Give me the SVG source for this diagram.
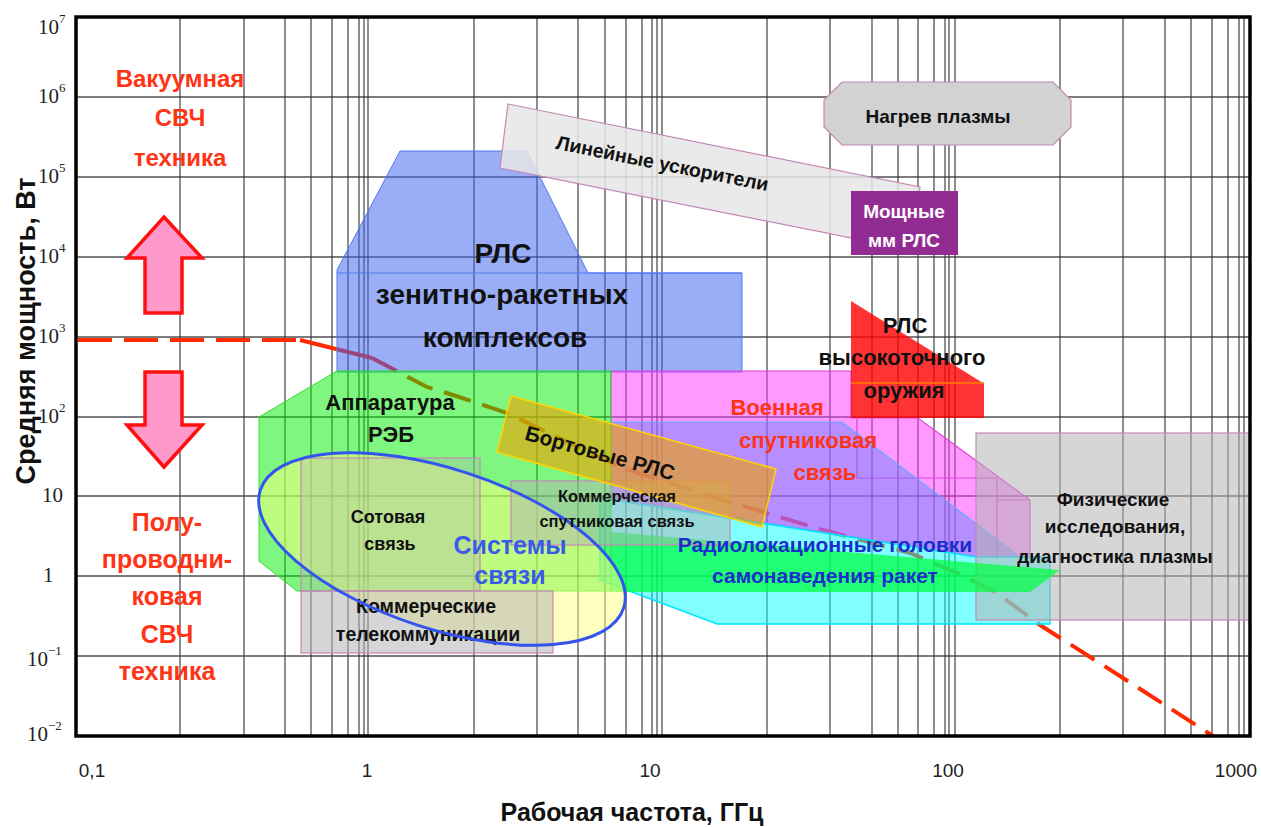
<svg xmlns="http://www.w3.org/2000/svg" width="1261" height="827" viewBox="0 0 1261 827">
<style>
.grid{stroke:#333;stroke-width:1.3;fill:none;opacity:.85}
.tick{font-family:"Liberation Serif",serif;font-size:21px;fill:#222}
.sup{font-size:13px}
.xt{font-family:"Liberation Sans",Arial,sans-serif;font-size:19px;fill:#222;text-anchor:middle}
.lbl{font-family:"Liberation Sans",Arial,sans-serif;font-weight:bold;text-anchor:middle;fill:#111}
.red{fill:#ff3315}
.arrow{fill:#ff99cc;stroke:#ff1010;stroke-width:3.5;stroke-linejoin:miter}
.box{stroke:#c488b4;stroke-width:1.2}
.rl{fill:none;stroke:#ff2a00;stroke-width:4}
.ell{fill:none;stroke:#3355ee;stroke-width:3}
</style>
<rect width="1261" height="827" fill="#fff"/>
<g id="grid">
<path class="grid" d="M76,97H1250M76,177H1250M76,257H1250M76,337H1250M76,417H1250M76,496H1250M76,576H1250M76,656H1250"/>
<path class="grid" d="M180,17V736M244,17V736M285,17V736M311,17V736M332,17V736M348,17V736M359,17V736M364,17V736M368,17V736M474,17V736M537,17V736M578,17V736M605,17V736M626,17V736M642,17V736M652,17V736M657,17V736M662,17V736M767,17V736M830,17V736M872,17V736M898,17V736M918,17V736M934,17V736M945,17V736M949,17V736M955,17V736M1060,17V736M1123,17V736M1165,17V736M1191,17V736M1212,17V736M1228,17V736M1239,17V736M1244,17V736"/>
</g>
<g id="connectors">
<path class="rl" stroke-dasharray="34 12" d="M78,340H300"/>
<path class="rl" d="M300,340L372,358"/>
<path class="rl" stroke-dasharray="28 12" d="M372,358L427,387L453,395L507,413L620,467L723,500L823,530L910,553L957,573L997,593L1040,625L1123,678L1213,736"/>
</g>
<g id="node-rls-zrk">
<polygon points="400,151 527,151 588,273 742,273 742,372 337,372 337,270" fill="#3b63f0" fill-opacity=".52" stroke="#5577ee" stroke-width="1"/>
<line x1="337" y1="273" x2="742" y2="273" stroke="#5577ee" stroke-width="1"/>
<text class="lbl" font-size="28" x="503" y="263">РЛС</text>
<text class="lbl" font-size="28" x="502" y="304">зенитно-ракетных</text>
<text class="lbl" font-size="28" x="505" y="347">комплексов</text>
</g>
<g id="node-linear">
<polygon class="box" points="508,104 920,187 912,250 500,168" fill="#e6e6e6" fill-opacity=".85"/>
<text class="lbl" font-size="19.5" transform="translate(661,170) rotate(11.3)">Линейные ускорители</text>
</g>
<g id="node-plasma-heat">
<polygon class="box" points="842,82 1053,82 1071,100 1071,127 1053,145 842,145 824,127 824,100" fill="#d2d2d2"/>
<text class="lbl" font-size="19" x="938" y="123">Нагрев плазмы</text>
</g>
<g id="node-mm-rls">
<rect x="851" y="191" width="107" height="64" fill="#922c92"/>
<text class="lbl" font-size="19" x="904" y="218" style="fill:#fff">Мощные</text>
<text class="lbl" font-size="19" x="904" y="247" style="fill:#fff">мм РЛС</text>
</g>
<g id="node-military-sat">
<polygon points="611,371 851,371 851,418 918,418 1030,500 1030,557 977,557 611,498" fill="#ff33ff" fill-opacity=".5" stroke="#e040e0" stroke-width="1.2"/>
<path d="M857,418V478H997V557M997,500H1030" fill="none" stroke="#e040e0" stroke-width="1.2"/>
</g>
<g id="node-rgsn-blue">
<polygon points="611,422 842,422 1020,557 977,557 611,498" fill="#6080ff" fill-opacity=".45" stroke="#66aaff" stroke-width="1.2"/>
</g>
<g id="node-rgsn-cyan">
<polygon points="600,498 977,557 1050,557 1050,624 717,624 600,580" fill="#00ffff" fill-opacity=".5" stroke="#00e5ff" stroke-width="1.5"/>
</g>
<g id="node-physics">
<rect class="box" x="976" y="433" width="274" height="187" fill="#b4b4b4" fill-opacity=".55"/>
</g>
<g id="node-rgsn-green">
<polygon points="611,532 1060,570 1030,592 611,592" fill="#00ff40" fill-opacity=".72"/>
</g>
<g id="node-precision">
<polygon points="851,301 983,383 984,383 984,418 851,418" fill="#ff0000" fill-opacity=".8"/>
<line x1="851" y1="383" x2="984" y2="383" stroke="#ff8000" stroke-width="1.5"/>
<text class="lbl" font-size="22" x="905" y="333">РЛС</text>
<text class="lbl" font-size="22" x="902" y="365">высокоточного</text>
<text class="lbl" font-size="22" x="904" y="398">оружия</text>
</g>
<g id="node-reb">
<polygon points="337,371 611,371 611,591 297,591 259,561 259,417" fill="#00ee00" fill-opacity=".5" stroke="#33dd33" stroke-width="1"/>
<text class="lbl" font-size="22" x="390" y="410">Аппаратура</text>
<text class="lbl" font-size="22" x="391" y="442">РЭБ</text>
</g>
<g id="comm-systems-fill">
<ellipse cx="442" cy="549" rx="191" ry="80" transform="rotate(18 442 549)" fill="#ffff80" fill-opacity=".5" stroke="none"/>
</g>
<g id="node-cellular">
<rect class="box" x="301" y="458" width="179" height="133" fill="#b4b4b4" fill-opacity=".35"/>
<text class="lbl" font-size="18" x="388" y="523">Сотовая</text>
<text class="lbl" font-size="18" x="390" y="550">связь</text>
</g>
<g id="node-telecom">
<rect class="box" x="301" y="591" width="252" height="62" fill="#b4b4b4" fill-opacity=".55"/>
<text class="lbl" font-size="19.5" x="426" y="613">Коммерческие</text>
<text class="lbl" font-size="19.5" x="428" y="641">телекоммуникации</text>
</g>
<g id="node-commsat">
<rect class="box" x="511" y="481" width="219" height="64" fill="#b4b4b4" fill-opacity=".5"/>
</g>
<g id="node-board-rls">
<polygon points="511,396 776,469 762,527 497,452" fill="#f0a000" fill-opacity=".6" stroke="#ffd400" stroke-width="1.5"/>
<text class="lbl" font-size="21" transform="translate(598,460) rotate(15.4)">Бортовые РЛС</text>
</g>
<g id="node-comm-systems">
<ellipse class="ell" cx="442" cy="549" rx="191" ry="80" transform="rotate(18 442 549)"/>
<text class="lbl" font-size="25" x="510" y="554" style="fill:#3a5ae8">Системы</text>
<text class="lbl" font-size="25" x="510" y="584" style="fill:#3a5ae8">связи</text>
</g>
<g id="labels-overlay">
<text class="lbl" font-size="16.5" x="617" y="502">Коммерческая</text>
<text class="lbl" font-size="16.5" x="617" y="527">спутниковая связь</text>
<text class="lbl red" font-size="22" x="777" y="415">Военная</text>
<text class="lbl red" font-size="22" x="808" y="448">спутниковая</text>
<text class="lbl red" font-size="22" x="825" y="480">связь</text>
<text class="lbl" font-size="21" x="825" y="552" style="fill:#1a2ecc">Радиолокационные головки</text>
<text class="lbl" font-size="21" x="825" y="583" style="fill:#1a2ecc">самонаведения ракет</text>
<text class="lbl" font-size="19" x="1113" y="506">Физические</text>
<text class="lbl" font-size="19" x="1115" y="533">исследования,</text>
<text class="lbl" font-size="19" x="1115" y="563">диагностика плазмы</text>
</g>
<g id="node-vacuum">
<text class="lbl red" font-size="24" x="180" y="87">Вакуумная</text>
<text class="lbl red" font-size="24" x="180" y="126">СВЧ</text>
<text class="lbl red" font-size="24" x="180" y="166">техника</text>
<polygon class="arrow" points="164,217 202,258 182,258 182,313 145,313 145,258 127,258"/>
</g>
<g id="node-semiconductor">
<polygon class="arrow" points="145,372 182,372 182,425 202,425 164,467 127,425 145,425"/>
<text class="lbl red" font-size="25" x="167" y="531">Полу-</text>
<text class="lbl red" font-size="25" x="167" y="568">проводни-</text>
<text class="lbl red" font-size="25" x="167" y="605">ковая</text>
<text class="lbl red" font-size="25" x="167" y="643">СВЧ</text>
<text class="lbl red" font-size="25" x="167" y="680">техника</text>
</g>
<g id="axes">
<rect x="76" y="17" width="1174" height="719" fill="none" stroke="#000" stroke-width="3.5"/>
<text class="tick" x="38" y="34">10<tspan class="sup" dy="-11">7</tspan></text>
<text class="tick" x="38" y="103">10<tspan class="sup" dy="-11">6</tspan></text>
<text class="tick" x="38" y="183">10<tspan class="sup" dy="-11">5</tspan></text>
<text class="tick" x="38" y="263">10<tspan class="sup" dy="-11">4</tspan></text>
<text class="tick" x="38" y="343">10<tspan class="sup" dy="-11">3</tspan></text>
<text class="tick" x="38" y="423">10<tspan class="sup" dy="-11">2</tspan></text>
<text class="tick" x="42" y="502">10</text>
<text class="tick" x="43" y="582">1</text>
<text class="tick" x="27" y="666">10<tspan class="sup" dy="-11">−1</tspan></text>
<text class="tick" x="27" y="741">10<tspan class="sup" dy="-11">−2</tspan></text>
<text class="xt" x="92" y="777">0,1</text>
<text class="xt" x="367" y="777">1</text>
<text class="xt" x="650" y="777">10</text>
<text class="xt" x="948" y="777">100</text>
<text class="xt" x="1236" y="777">1000</text>
<text class="lbl" font-size="25" x="632" y="821">Рабочая частота, ГГц</text>
<text class="lbl" font-size="27" transform="translate(35,331) rotate(-90)">Средняя мощность, Вт</text>
</g>
</svg>
